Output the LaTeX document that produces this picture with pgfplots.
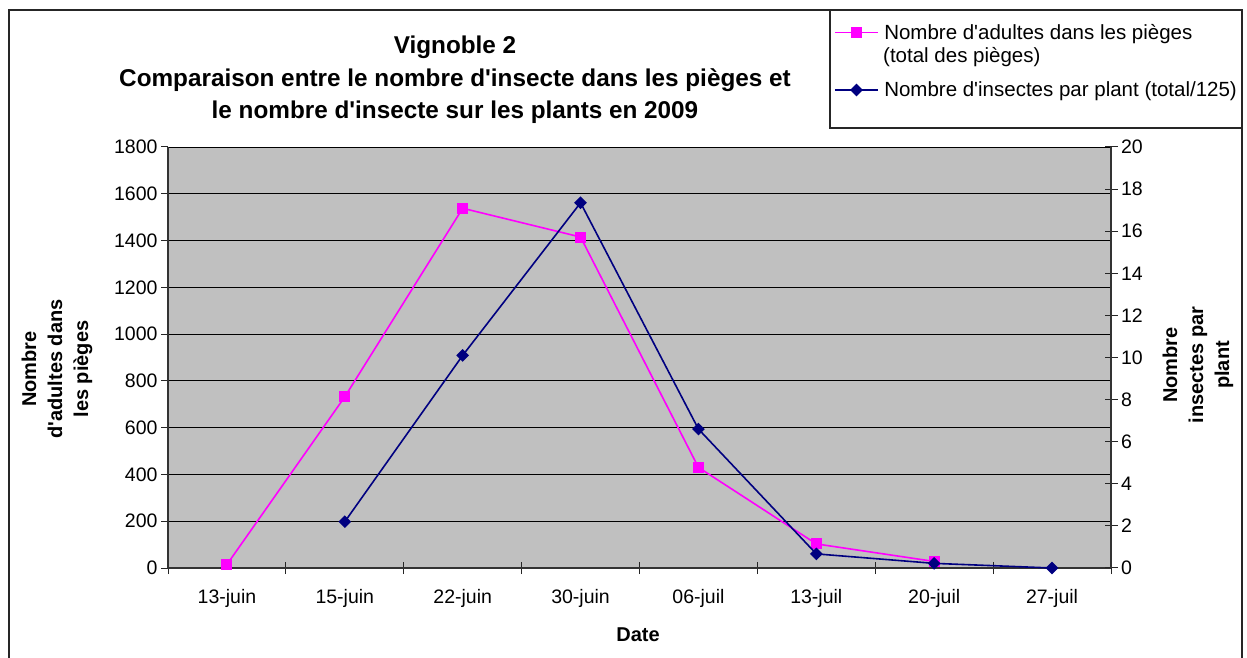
\documentclass[border=0pt]{standalone}
\usepackage{pgfplots}
\pgfplotsset{compat=1.18}
\usepackage{fontspec}
\setmainfont{Liberation Sans}
\definecolor{pinkline}{RGB}{255,0,255}
\definecolor{navyline}{RGB}{0,0,128}
\definecolor{plotbg}{RGB}{192,192,192}
\newcommand{\tickfont}{\fontsize{19.5bp}{23bp}\selectfont}
\newcommand{\labfont}{\fontsize{20bp}{26bp}\selectfont\bfseries}
\newcommand{\legfont}{\fontsize{20.5bp}{24bp}\selectfont}
\newcommand{\q}{\textquotesingle}
\begin{document}
\begin{tikzpicture}
\useasboundingbox (0,0) rectangle (1247bp,658bp);
% outer frame
\draw[line width=1.5bp, black!85] (9bp,-5bp) -- (9bp,648bp) -- (1242bp,648bp) -- (1242bp,-5bp);
% legend frame
\draw[line width=1.3bp, black!85] (830bp,648bp) rectangle (1242bp,530bp);
% title
\node[font=\fontsize{24.3bp}{28bp}\selectfont\bfseries, anchor=base] at (455bp,604bp) {Vignoble 2};
\node[font=\fontsize{24.3bp}{28bp}\selectfont\bfseries, anchor=base] at (455bp,571bp) {Comparaison entre le nombre d\q insecte dans les pièges et};
\node[font=\fontsize{24.3bp}{28bp}\selectfont\bfseries, anchor=base] at (455bp,539bp) {le nombre d\q insecte sur les plants en 2009};
% axis labels
\node[rotate=90, align=center, font=\labfont] at (57bp,289bp) {Nombre\\d\q adultes dans\\les pièges};
\node[rotate=90, align=center, font=\labfont] at (1198bp,293bp) {Nombre\\insectes par\\plant};
\node[font=\labfont, anchor=base] at (638bp,17bp) {Date};
% second line of the first legend entry
\node[font=\legfont, anchor=base west, inner sep=0pt] at (883bp,595bp) {(total des pièges)};

\begin{axis}[
  at={(168bp,90bp)}, anchor=south west,
  scale only axis, width=943bp, height=421bp,
  xmin=-0.5, xmax=7.5, ymin=0, ymax=1800,
  clip=false,
  axis x line*=bottom, axis y line*=left,
  xtick={0,...,7},
  xticklabels={13-juin,15-juin,22-juin,30-juin,06-juil,13-juil,20-juil,27-juil},
  xticklabel style={yshift=-11bp},
  major x tick style={draw=none},
  minor xtick={-0.5,0.5,...,7.5},
  minor x tick style={draw=black!85, line width=1bp, yshift=6bp},
  minor tick length=12bp,
  ytick={0,200,...,1800},
  major tick length=7bp,
  tick align=outside,
  ytick style={draw=black!85, line width=1bp},
  ymajorgrids,
  major grid style={black, line width=0.9bp},
  axis background/.style={fill=plotbg},
  axis line style={black!80, line width=1.3bp},
  tick label style={font=\tickfont},
  /pgf/number format/assume math mode=true,
  /pgf/number format/1000 sep={},
  legend cell align=left,
  legend style={at={(axis description cs:0.7062,1.2724)}, anchor=west,
    draw=none, fill=none, inner sep=0pt, column sep=5bp,
    font=\legfont, nodes={inner sep=0.5bp}},
  legend image code/.code={\draw[#1, mark repeat=2, mark phase=2] plot coordinates {(0bp,0bp) (21.5bp,0bp) (43bp,0bp)};},
]
\addplot[color=pinkline, line width=1.6bp, mark=square*, mark size=4.7bp, mark options={fill=pinkline}]
  coordinates {(0,15) (1,732) (2,1538) (3,1415) (4,430) (5,103) (6,28)};
\addlegendentry{Nombre d\q adultes dans les pièges}
\end{axis}

\begin{axis}[
  at={(168bp,90bp)}, anchor=south west,
  scale only axis, width=943bp, height=421bp,
  xmin=-0.5, xmax=7.5, ymin=0, ymax=20,
  clip=false,
  axis x line=none, axis y line*=right,
  ytick={0,2,...,20},
  tick align=center, major tick length=13bp,
  ytick style={draw=black!85, line width=1bp},
  axis line style={black!80, line width=1.3bp},
  tick label style={font=\tickfont},
  /pgf/number format/assume math mode=true,
  legend cell align=left,
  legend style={at={(axis description cs:0.7062,1.1354)}, anchor=west,
    draw=none, fill=none, inner sep=0pt, column sep=5bp,
    font=\legfont, nodes={inner sep=0.5bp}},
  legend image code/.code={\draw[#1, mark repeat=2, mark phase=2] plot coordinates {(0bp,0bp) (21.5bp,0bp) (43bp,0bp)};},
]
\addplot[color=navyline, line width=1.6bp, mark=square*, mark size=3.7bp, mark options={rotate=45, fill=navyline}]
  coordinates {(1,2.2) (2,10.1) (3,17.35) (4,6.6) (5,0.67) (6,0.22) (7,0)};
\addlegendentry{Nombre d\q insectes par plant (total/125)}
\end{axis}
\end{tikzpicture}
\end{document}
